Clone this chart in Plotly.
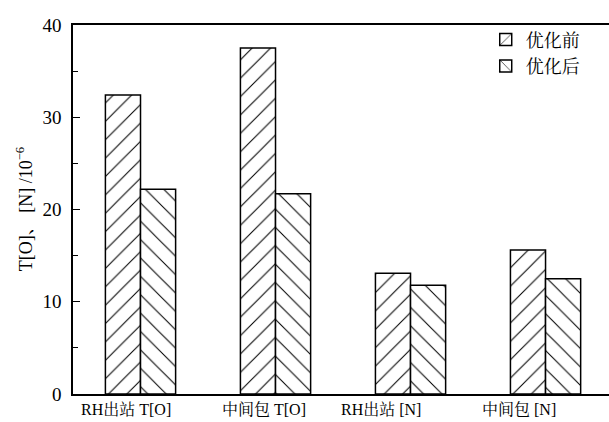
import plotly.graph_objects as go

categories = ["RH出站 T[O]", "中间包 T[O]", "RH出站 [N]", "中间包 [N]"]
before = [32.4, 37.5, 13.1, 15.6]
after = [22.2, 21.7, 11.8, 12.5]
series_names = ["优化前", "优化后"]
label_shift = [-15, -12, -30, -27]

font_family = "Liberation Serif, 'Noto Serif CJK SC', 'Noto Sans CJK SC', serif"

fig = go.Figure()
for name, vals, shape in [(series_names[0], before, "/"), (series_names[1], after, "\\")]:
    fig.add_trace(go.Bar(
        x=list(range(len(categories))), y=vals, name=name,
        marker=dict(color="white",
                    line=dict(color="black", width=1.5),
                    pattern=dict(shape=shape, fgcolor="black", bgcolor="white",
                                 size=13, solidity=0.08, fillmode="replace")),
    ))

fig.update_layout(
    width=609, height=422,
    margin=dict(l=73, r=0, t=25, b=28),
    paper_bgcolor="white", plot_bgcolor="white",
    barmode="group", bargap=0.48, bargroupgap=0,
    font=dict(family=font_family, color="black", size=15),
    showlegend=True,
    legend=dict(x=0.77, y=1.01, xanchor="left", yanchor="top",
                bgcolor="rgba(0,0,0,0)", font=dict(size=18),
                tracegroupgap=0),
    xaxis=dict(range=[-0.5, 3.47], tickmode="array",
               tickvals=list(range(len(categories))), ticktext=[""] * len(categories),
               showline=True, linecolor="black", linewidth=1.5, mirror=True,
               ticks="", showgrid=False, zeroline=False),
    yaxis=dict(range=[0, 40], tickvals=[0, 10, 20, 30, 40],
               showline=True, linecolor="black", linewidth=1.5,
               ticks="inside", ticklen=7, tickwidth=1.2, tickcolor="black",
               minor=dict(tickvals=[5, 15, 25, 35], ticks="inside", ticklen=5,
                          tickwidth=1.2, tickcolor="black"),
               showgrid=False, zeroline=False,
               tickfont=dict(size=19), ticklabelstandoff=6),
)

for i, (lab, sh) in enumerate(zip(categories, label_shift)):
    fig.add_annotation(text=lab, x=i, xref="x", y=0, yref="paper",
                       yanchor="top", yshift=-5, xshift=sh, showarrow=False,
                       font=dict(size=16))

fig.add_annotation(text="T[O]、 [N] /10<sup>−6</sup>", xref="paper", yref="paper",
                   x=-0.09, y=0.5, textangle=-90, showarrow=False,
                   font=dict(size=18), xanchor="center", yanchor="middle")

fig.write_html("out.html")
